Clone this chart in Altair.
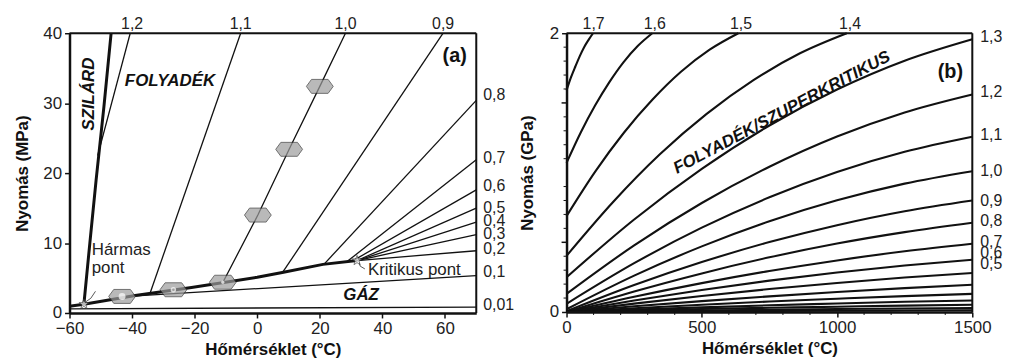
import altair as alt
import pandas as pd

FONT = "Liberation Sans"

# ---------------- Panel (a): 0-40 MPa ----------------
melt_T = [-55.4, -53.5, -51.5, -49.0, -46.7]
melt_P = [1.25, 10.0, 19.0, 29.5, 40.0]
subl_T = [-60.0, -55.4]
subl_P = [0.95, 1.25]
vap_T = [-55.4, -39.0, -21.0, 0.0, 8.0, 21.0, 31.9]
vap_P = [1.25, 2.5, 3.65, 5.1, 5.8, 6.95, 7.5]

iso_a_names = ["1,2", "1,1", "1,0", "0,9", "0,8", "0,7", "0,6", "0,5", "0,4", "0,3", "0,2", "0,1", "0,01"]
iso_a_T = [
    [-51.0, -40.6], [-34.2, -5.3], [-11.0, 0.2, 10.2, 20.0, 28.2], [8.1, 59.4], [21.3, 70.0],
    [28.7, 70.0], [30.5, 70.0], [31.9, 70.0], [31.9, 70.0], [31.9, 70.0], [31.9, 70.0],
    [-40.0, 70.0], [-60.0, 70.0],
]
iso_a_P = [
    [22.5, 40.0], [2.9, 40.0], [4.35, 14.0, 23.4, 32.4, 40.0], [5.8, 40.0], [6.95, 30.4],
    [7.35, 21.9], [7.45, 17.6], [7.5, 15.0], [7.5, 13.0], [7.5, 11.2], [7.5, 8.9],
    [2.42, 5.35], [0.6, 0.85],
]

top_a_labels = ["1,2", "1,1", "1,0", "0,9"]
top_a_T = [-40.0, -5.3, 28.2, 59.4]
right_a_labels = ["0,8", "0,7", "0,6", "0,5", "0,4", "0,3", "0,2", "0,1", "0,01"]
right_a_P = [31.1, 22.1, 18.1, 15.05, 13.2, 11.3, 9.15, 5.8, 1.1]

hex_T = [-43.2, -26.8, -11.0, 0.2, 10.2, 20.0]
hex_P = [2.37, 3.32, 4.4, 14.0, 23.4, 32.4]
star_T = [-55.4, 31.9]
star_P = [1.25, 7.5]

lead_h_T = [-51.7, -53.2, -54.8]
lead_h_P = [3.1, 2.1, 1.6]
lead_k_T = [32.6, 32.9, 34.4]
lead_k_P = [7.2, 6.7, 6.3]

# ---------------- Panel (b): 0-2 GPa ----------------
iso_b_names = ["1,7", "1,6", "1,5", "1,4", "1,3", "1,2", "1,1", "1,0", "0,9", "0,8",
               "0,7", "0,6", "0,5", "0,4", "0,3", "0,2", "0,15", "0,1", "0,05"]
full_T = [0, 250, 500, 750, 1000, 1250, 1500]
iso_b_T = [
    [0, 16, 33, 49, 65, 82, 98],
    [0, 53, 106, 159, 211, 264, 317],
    [0, 106, 212, 318, 423, 529, 635],
    [0, 173, 345, 518, 691, 863, 1036],
] + [full_T for _ in range(15)]
iso_b_P = [
    [1.59, 1.681, 1.763, 1.836, 1.90, 1.954, 2.0],
    [1.07, 1.290, 1.483, 1.651, 1.793, 1.910, 2.0],
    [0.688, 1.007, 1.286, 1.524, 1.723, 1.882, 2.0],
    [0.403, 0.791, 1.131, 1.421, 1.663, 1.856, 2.0],
    [0.249, 0.664, 1.027, 1.338, 1.596, 1.803, 1.957],
    [0.13, 0.478, 0.782, 1.042, 1.259, 1.432, 1.561],
    [0.059, 0.350, 0.605, 0.823, 1.004, 1.149, 1.257],
    [0.02, 0.261, 0.471, 0.651, 0.801, 0.921, 1.01],
    [0.005, 0.193, 0.358, 0.502, 0.623, 0.723, 0.80],
    [0.0, 0.147, 0.277, 0.392, 0.491, 0.573, 0.64],
    [0.0, 0.109, 0.207, 0.294, 0.370, 0.436, 0.49],
    [0.0, 0.083, 0.158, 0.225, 0.283, 0.333, 0.375],
    [0.0, 0.060, 0.115, 0.1645, 0.208, 0.247, 0.28],
    [0.0, 0.041, 0.078, 0.112, 0.143, 0.171, 0.195],
    [0.0, 0.027, 0.052, 0.075, 0.095, 0.114, 0.13],
    [0.0, 0.017, 0.033, 0.048, 0.061, 0.073, 0.083],
    [0.0, 0.011, 0.021, 0.030, 0.038, 0.046, 0.052],
    [0.0, 0.006, 0.011, 0.016, 0.021, 0.025, 0.028],
    [0.0, 0.0025, 0.0048, 0.0069, 0.0088, 0.0105, 0.012],
]
top_b_labels = ["1,7", "1,6", "1,5", "1,4"]
top_b_T = [100, 326, 645, 1048]
right_b_labels = ["1,3", "1,2", "1,1", "1,0", "0,9", "0,8", "0,7", "0,6", "0,5"]
right_b_P = [1.97, 1.575, 1.27, 1.01, 0.795, 0.653, 0.503, 0.42, 0.344]
minor_b_T = [100, 200, 300, 400, 600, 700, 800, 900, 1100, 1200, 1300, 1400]
minor_b_P = [0.1, 0.2, 0.3, 0.4, 0.6, 0.7, 0.8, 0.9, 1.1, 1.2, 1.3, 1.4, 1.6, 1.7, 1.8, 1.9]
mid_b_P = [0.5, 1.5]


def lines_df(names, Ts, Ps):
    rows = []
    for n, ts, ps in zip(names, Ts, Ps):
        for i, (t, p) in enumerate(zip(ts, ps)):
            rows.append({"id": n, "T": float(t), "P": float(p), "o": i})
    return pd.DataFrame(rows)


INK = "#111111"
GREY_TXT = "#222222"
WA, HA = 410, 282
WB, HB = 409, 281

axis_common = dict(
    labelFontSize=17, labelFont=FONT, labelColor=GREY_TXT,
    titleFontSize=17, titleFont=FONT, titleFontWeight="bold", titleColor=INK,
    tickSize=5, tickWidth=1.5, tickColor=INK, domainColor=INK, domainWidth=2.5,
    grid=False, labelPadding=3,
)

A_TPX = 130.0 / WA
A_PPX = 40.0 / HA
B_TPX = 1500.0 / WB
B_PPX = 2.0 / HB

xa = alt.X("T:Q", scale=alt.Scale(domain=[-60, 70], nice=False, zero=False),
           axis=alt.Axis(values=[-60, -40, -20, 0, 20, 40, 60], title="Hőmérséklet (°C)",
                         titlePadding=5, labelFlush=False, **axis_common))
ya = alt.Y("P:Q", scale=alt.Scale(domain=[0, 40], nice=False),
           axis=alt.Axis(values=[0, 10, 20, 30, 40], title="Nyomás (MPa)",
                         titlePadding=11, labelFlush=False, **axis_common))
xa2 = alt.X2("T2:Q")
ya2 = alt.Y2("P2:Q")

thin_a = alt.Chart(lines_df(iso_a_names, iso_a_T, iso_a_P)).mark_line(
    color=INK, strokeWidth=1.3).encode(x=xa, y=ya, detail="id:N", order="o:Q")
thick_a = alt.Chart(lines_df(["melt", "subl", "vap"], [melt_T, subl_T, vap_T],
                             [melt_P, subl_P, vap_P])).mark_line(
    color=INK, strokeWidth=3).encode(x=xa, y=ya, detail="id:N", order="o:Q")
leaders = alt.Chart(lines_df(["h", "k"], [lead_h_T, lead_k_T], [lead_h_P, lead_k_P])).mark_line(
    color="#444444", strokeWidth=0.9).encode(x=xa, y=ya, detail="id:N", order="o:Q")

# frame (top and right edges of the plot area, on the domain limits)
frame_a_h = alt.Chart(pd.DataFrame({"T": [-60.0], "T2": [70.0], "P": [40.0]})).mark_rule(
    color=INK, strokeWidth=2).encode(x=xa, x2=xa2, y=ya)
frame_a_v = alt.Chart(pd.DataFrame({"T": [70.0], "P": [0.0], "P2": [40.0]})).mark_rule(
    color=INK, strokeWidth=2).encode(x=xa, y=ya, y2=ya2)

hex_df = pd.DataFrame({"T": hex_T, "P": hex_P})
HEX = "M-1,0L-0.62,-0.52L0.62,-0.52L1,0L0.62,0.52L-0.62,0.52Z"
STAR = ("M0,-1L0.235,-0.324L0.951,-0.309L0.38,0.124L0.588,0.809L0,0.4L-0.588,0.809"
        "L-0.38,0.124L-0.951,-0.309L-0.235,-0.324Z")
hexes = alt.Chart(hex_df).mark_point(shape=HEX, size=729, filled=True, color="#9c9c9c",
                                     stroke="#333333", strokeWidth=1).encode(x=xa, y=ya)
b1 = alt.Chart(hex_df.iloc[0:1]).mark_point(shape="circle", size=49, filled=True, color="white").encode(x=xa, y=ya)
b2 = alt.Chart(hex_df.iloc[1:2]).mark_point(shape="circle", size=30, filled=True, color="white").encode(x=xa, y=ya)
b2c = alt.Chart(hex_df.iloc[1:2]).mark_point(shape="circle", size=6, filled=True, color="#888888").encode(x=xa, y=ya)
b3 = alt.Chart(hex_df.iloc[2:3]).mark_point(shape="circle", size=12, filled=True, color="white").encode(x=xa, y=ya)
stars = alt.Chart(pd.DataFrame({"T": star_T, "P": star_P})).mark_point(
    shape=STAR, size=110, filled=True, color="white", stroke="#333333", strokeWidth=0.9).encode(x=xa, y=ya)


def txt(xe, ye, T, P, s, **kw):
    base = dict(font=FONT, color=INK, baseline="middle", fontSize=17)
    base.update(kw)
    return alt.Chart(pd.DataFrame({"T": [T], "P": [P], "s": [s]})).mark_text(**base).encode(
        x=xe, y=ye, text="s:N")


reg_a = [
    txt(xa, ya, -53.8, 31.3, "SZILÁRD", fontWeight="bold", fontStyle="italic", angle=270),
    txt(xa, ya, -27.9, 33.2, "FOLYADÉK", fontWeight="bold", fontStyle="italic"),
    txt(xa, ya, 33.2, 2.5, "GÁZ", fontWeight="bold", fontStyle="italic"),
    txt(xa, ya, 63.1, 36.7, "(a)", fontSize=20, fontWeight="bold"),
    txt(xa, ya, -52.9, 9.0, "Hármas", align="left", color=GREY_TXT),
    txt(xa, ya, -52.9, 6.4, "pont", align="left", color=GREY_TXT),
    txt(xa, ya, 35.4, 6.2, "Kritikus pont", align="left", color=GREY_TXT),
]

top_a = alt.Chart(pd.DataFrame({"T": top_a_T, "P": [40 + 9.5 * A_PPX] * len(top_a_T), "s": top_a_labels})
                  ).mark_text(font=FONT, fontSize=16, color=GREY_TXT, baseline="middle").encode(
    x=xa, y=ya, text="s:N")
right_a = alt.Chart(pd.DataFrame({"T": [70 + 7 * A_TPX] * len(right_a_P), "P": right_a_P, "s": right_a_labels})
                    ).mark_text(font=FONT, fontSize=16, color=GREY_TXT, baseline="middle", align="left").encode(
    x=xa, y=ya, text="s:N")

panel_a = alt.layer(thin_a, thick_a, leaders, frame_a_h, frame_a_v, hexes, b1, b2, b2c, b3, stars,
                    *reg_a, top_a, right_a).properties(width=WA, height=HA)

# ---------------- Panel (b) ----------------
xb = alt.X("T:Q", scale=alt.Scale(domain=[0, 1500], nice=False),
           axis=alt.Axis(values=[0, 500, 1000, 1500], format="d", title="Hőmérséklet (°C)",
                         titlePadding=5, labelFlush=False, **axis_common))
yb = alt.Y("P:Q", scale=alt.Scale(domain=[0, 2], nice=False),
           axis=alt.Axis(values=[0, 1, 2], format="d", title="Nyomás (GPa)",
                         titlePadding=13, labelFlush=False, **axis_common))
xb2 = alt.X2("T2:Q")
yb2 = alt.Y2("P2:Q")

lines_b = alt.Chart(lines_df(iso_b_names, iso_b_T, iso_b_P)).mark_line(
    color=INK, strokeWidth=2.1, interpolate="monotone").encode(x=xb, y=yb, detail="id:N", order="o:Q")

frame_b_h = alt.Chart(pd.DataFrame({"T": [0.0], "T2": [1500.0], "P": [2.0]})).mark_rule(
    color=INK, strokeWidth=2).encode(x=xb, x2=xb2, y=yb)
frame_b_v = alt.Chart(pd.DataFrame({"T": [1500.0], "P": [0.0], "P2": [2.0]})).mark_rule(
    color=INK, strokeWidth=2).encode(x=xb, y=yb, y2=yb2)

minor_x = alt.Chart(pd.DataFrame({"T": minor_b_T, "P": [0.0] * len(minor_b_T),
                                  "P2": [-3 * B_PPX] * len(minor_b_T)})).mark_rule(
    color=INK, strokeWidth=1).encode(x=xb, y=yb, y2=yb2)
minor_y = alt.Chart(pd.DataFrame({"P": minor_b_P, "T": [0.0] * len(minor_b_P),
                                  "T2": [-3 * B_TPX] * len(minor_b_P)})).mark_rule(
    color=INK, strokeWidth=1).encode(y=yb, x=xb, x2=xb2)
mid_y = alt.Chart(pd.DataFrame({"P": mid_b_P, "T": [0.0] * len(mid_b_P),
                                "T2": [-5 * B_TPX] * len(mid_b_P)})).mark_rule(
    color=INK, strokeWidth=1.5).encode(y=yb, x=xb, x2=xb2)

top_b = alt.Chart(pd.DataFrame({"T": top_b_T, "P": [2 + 9.5 * B_PPX] * len(top_b_T), "s": top_b_labels})
                  ).mark_text(font=FONT, fontSize=16, color=GREY_TXT, baseline="middle").encode(
    x=xb, y=yb, text="s:N")
right_b = alt.Chart(pd.DataFrame({"T": [1500 + 8 * B_TPX] * len(right_b_P), "P": right_b_P, "s": right_b_labels})
                    ).mark_text(font=FONT, fontSize=16, color=GREY_TXT, baseline="middle", align="left").encode(
    x=xb, y=yb, text="s:N")

reg_b = [
    txt(xb, yb, 796, 1.43, "FOLYADÉK/SZUPERKRITIKUS", fontWeight="bold", fontStyle="italic", angle=332),
    txt(xb, yb, 1419, 1.72, "(b)", fontSize=20, fontWeight="bold"),
]

panel_b = alt.layer(lines_b, frame_b_h, frame_b_v, minor_x, minor_y, mid_y, *reg_b, top_b, right_b
                    ).properties(width=WB, height=HB)

chart = alt.hconcat(panel_a, panel_b, spacing=3)

chart.save("out.html", embed_options={"renderer": "svg", "actions": False})
